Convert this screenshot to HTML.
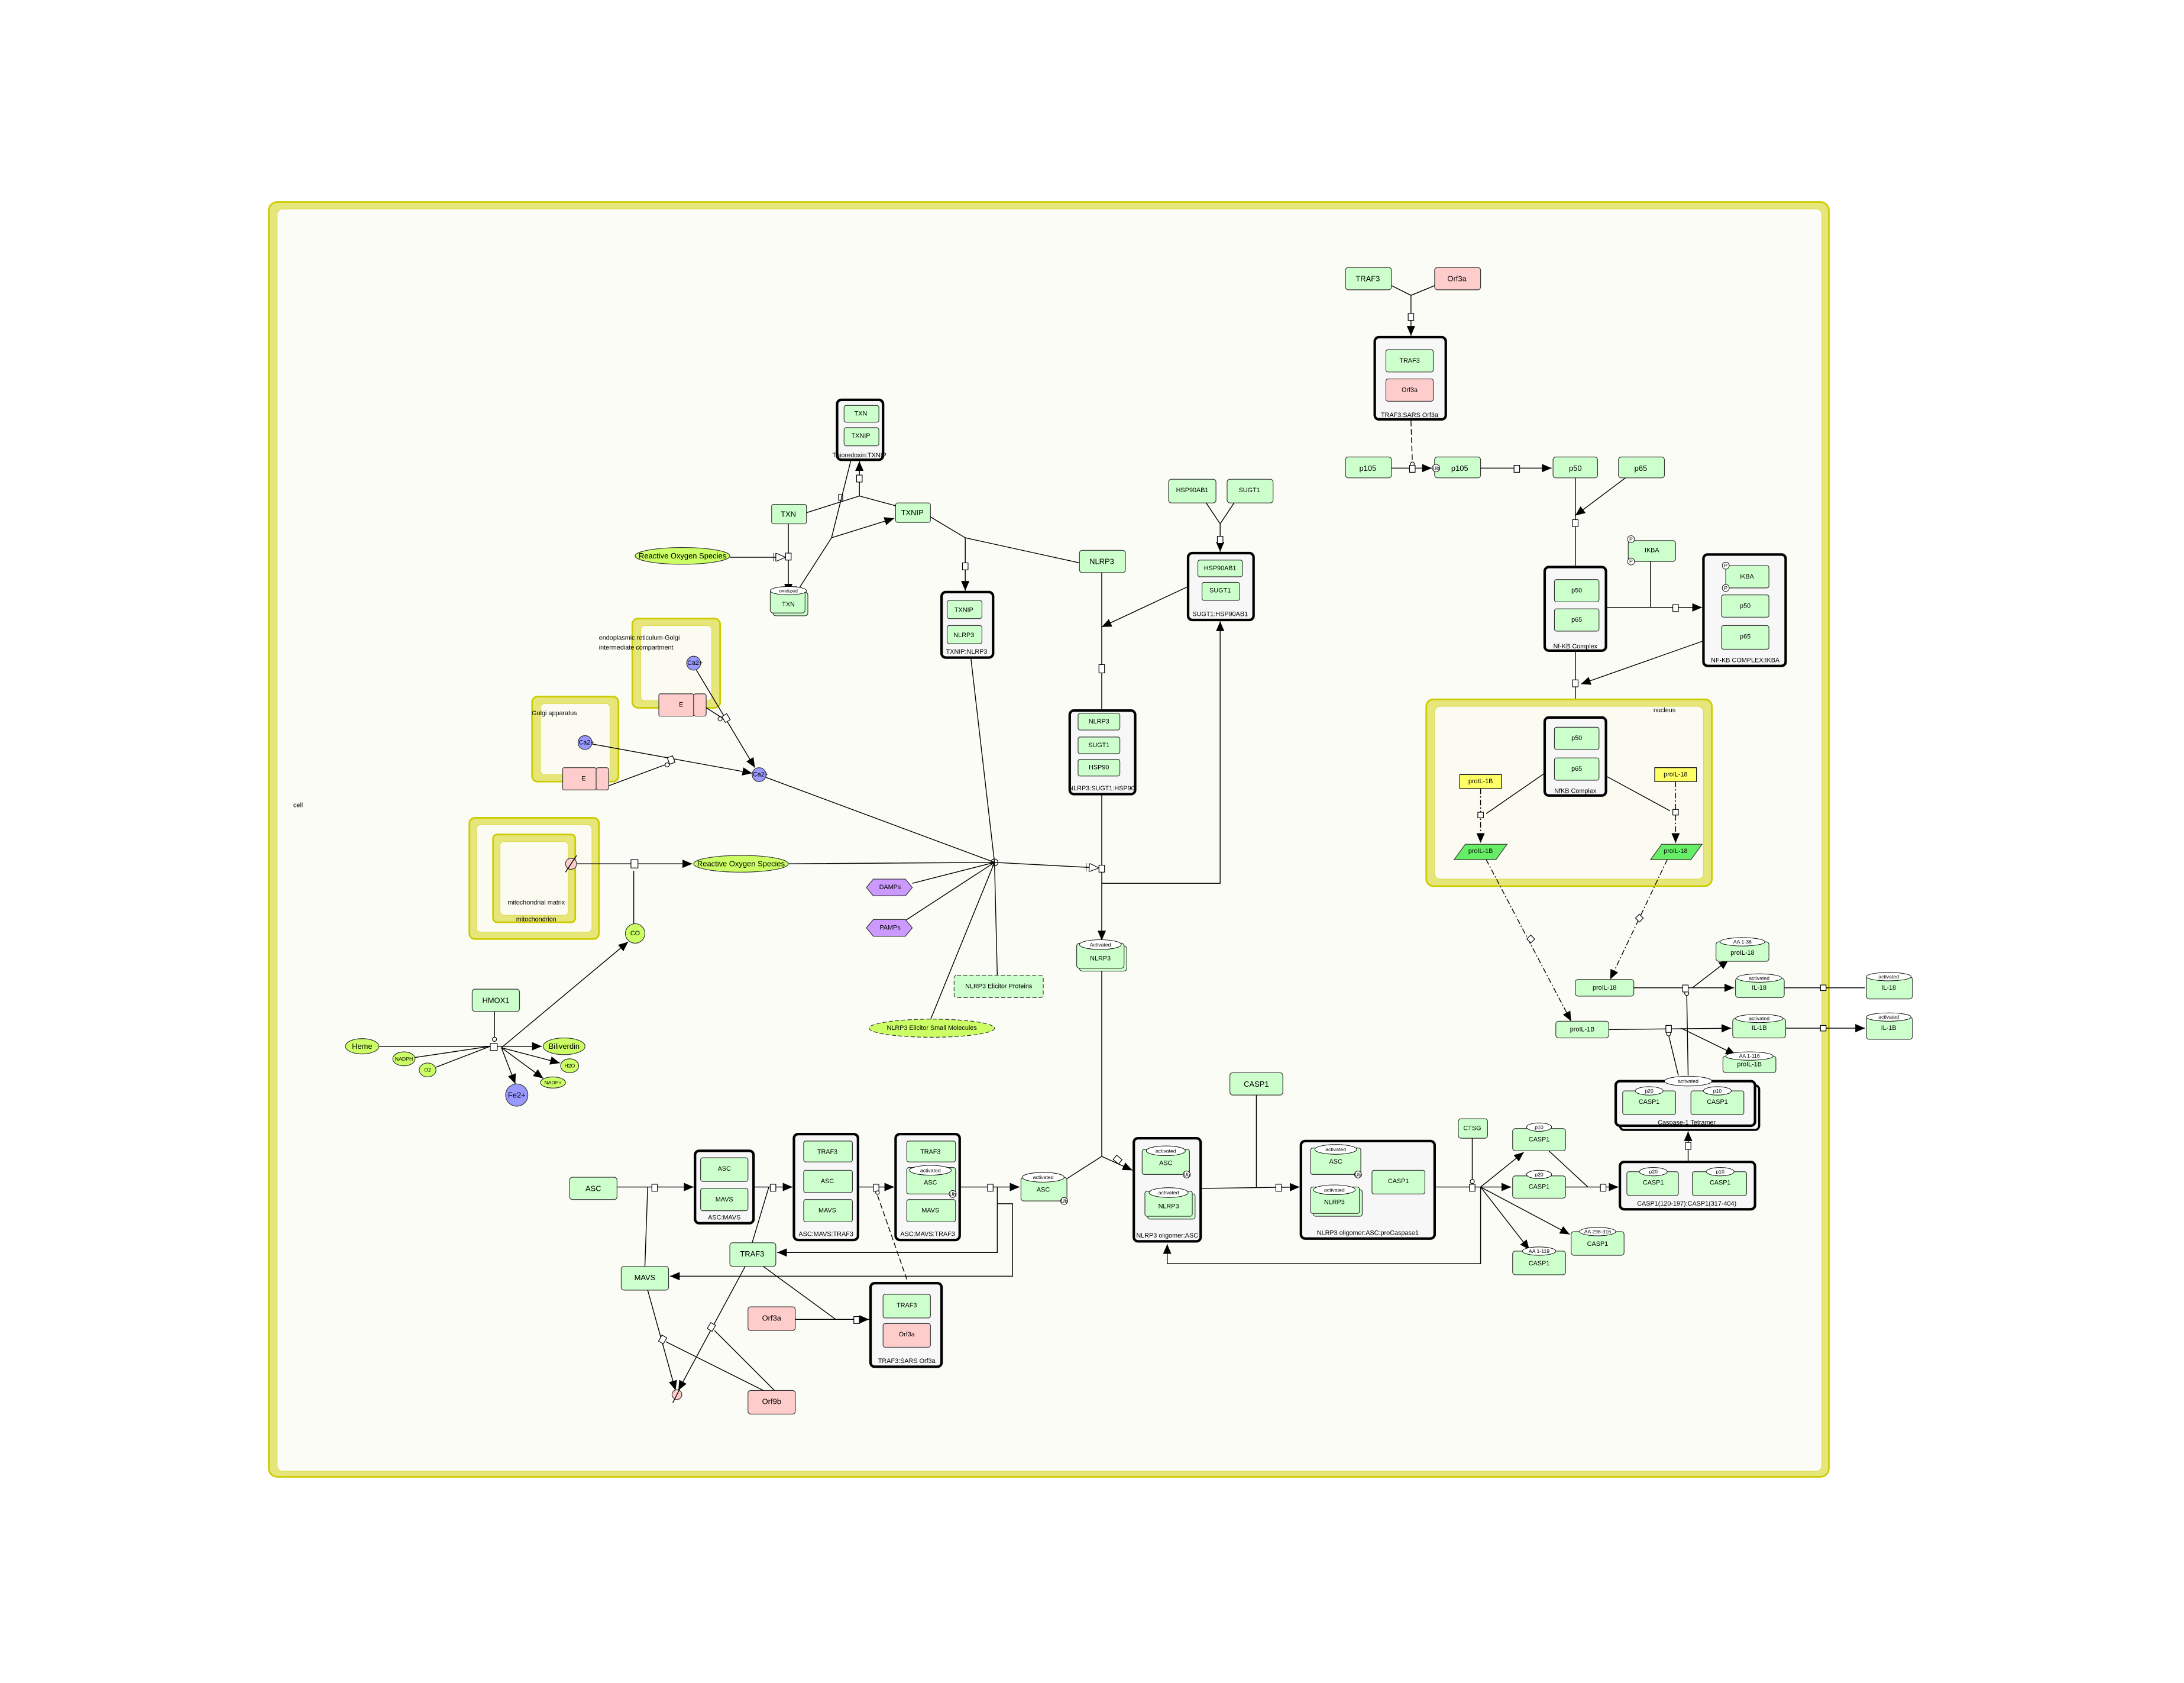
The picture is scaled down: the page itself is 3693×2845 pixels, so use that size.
<!DOCTYPE html>
<html><head><meta charset="utf-8"><style>
html,body{margin:0;padding:0;background:#fff}
svg{display:block}
text{font-family:"Liberation Sans","DejaVu Sans",sans-serif;font-size:5.5px;text-anchor:middle;dominant-baseline:central;fill:#000}
.s{font-size:4.6px}
.xs{font-size:3.7px}
.p{fill:#ccffcc;stroke:#333;stroke-width:0.5}
.k{fill:#ffcccc;stroke:#333;stroke-width:0.5}
.c{fill:#f7f7f8;stroke:#000;stroke-width:1.8}
.l{fill:none;stroke:#000;stroke-width:0.6}
.d{fill:none;stroke:#000;stroke-width:0.6;stroke-dasharray:4 2}
.dd{fill:none;stroke:#000;stroke-width:0.6;stroke-dasharray:4 1.5 1 1.5}
.q{fill:#fff;stroke:#000;stroke-width:0.5}
.ch{fill:#ccff66;stroke:#333;stroke-width:0.5}
.io{fill:#9999ff;stroke:#333;stroke-width:0.5}
.cy{fill:#e6e67a;stroke:#cccc00;stroke-width:1.2}
.ci{fill:#fbfbf2;stroke:#dddd55;stroke-width:0.5}
</style></head><body>
<svg width="3693" height="2845" viewBox="0 0 1568 1208" preserveAspectRatio="none" xmlns="http://www.w3.org/2000/svg">
<defs>
<marker id="a" markerWidth="7" markerHeight="6" refX="7" refY="3" orient="auto" markerUnits="userSpaceOnUse"><path d="M0,0L7,3L0,6z"/></marker>
<marker id="h" markerWidth="9" markerHeight="6" refX="9" refY="3" orient="auto" markerUnits="userSpaceOnUse"><path d="M0,0V6M2,0V6M2,0L9,3L2,6z" fill="#fff" stroke="#000" stroke-width="0.5"/></marker>
</defs>
<rect width="1568" height="1208" fill="#fff"/>
<rect x="193" y="145" width="1120" height="915" rx="6" class="cy" stroke-width="1.5"/>
<rect x="199" y="150" width="1109" height="906" rx="4" fill="#fcfcf6" stroke="#dddd55" stroke-width="0.5"/>
<text x="214" y="578" class="s">cell</text>

<rect x="337" y="587" width="93" height="87" rx="4" class="cy"/>
<rect x="342" y="592" width="83" height="77" rx="3" class="ci"/>
<rect x="354" y="599" width="59" height="63" rx="3" class="cy"/>
<rect x="359" y="604" width="49" height="53" rx="3" class="ci"/>
<text x="385" y="648" class="s">mitochondrial matrix</text>
<text x="385" y="660" class="s" fill="#997">mitochondrion</text>
<circle cx="410" cy="620" r="4" class="k"/><path d="M406,626L414,614" class="l"/>

<rect x="382" y="500" width="62" height="61" rx="4" class="cy"/>
<rect x="388" y="505" width="50" height="51" rx="3" class="ci"/>
<text x="398" y="512" class="s">Golgi apparatus</text>
<circle cx="420" cy="533" r="5" class="io"/><text x="421" y="533" class="s">Ca2+</text>
<rect x="404" y="551" width="24" height="16" rx="1" class="k"/><rect x="428" y="551" width="9" height="16" rx="1.5" class="k"/><text x="419" y="559" class="s">E</text>

<rect x="454" y="444" width="63" height="64" rx="4" class="cy"/>
<rect x="460" y="449" width="51" height="54" rx="3" class="ci"/>
<text x="430" y="458" class="s" style="text-anchor:start">endoplasmic reticulum-Golgi</text>
<text x="430" y="465" class="s" style="text-anchor:start">intermediate compartment</text>
<circle cx="498" cy="476" r="5" class="io"/><text x="499" y="476" class="s">Ca2+</text>
<rect x="473" y="498" width="25" height="16" rx="1" class="k"/><rect x="498" y="498" width="9" height="16" rx="1.5" class="k"/><text x="489" y="506" class="s">E</text>

<circle cx="545" cy="556" r="5" class="io"/><text x="546" y="556" class="s">Ca2+</text>
<path d="M425,534L540,555" class="l" marker-end="url(#a)"/>
<path d="M437,564L480,548" class="l"/><rect x="480" y="543" width="4" height="5" class="q" transform="rotate(-20 482 546)"/><circle cx="479" cy="549" r="1.5" class="q"/>
<path d="M500,481L542,551" class="l" marker-end="url(#a)"/>
<path d="M507,508L518,515" class="l"/><rect x="519" y="513" width="4" height="5" class="q" transform="rotate(-30 521 515)"/><circle cx="517" cy="516" r="1.5" class="q"/>

<path d="M414,620L497,620" class="l" marker-end="url(#a)"/><rect x="453" y="617" width="5" height="6" class="q"/>
<path d="M455,625L455,663" class="l"/>
<circle cx="456" cy="670" r="7" class="ch"/><text x="456" y="670" class="s">CO</text>
<ellipse cx="532" cy="620" rx="34" ry="6" class="ch"/><text x="532" y="620">Reactive Oxygen Species</text>

<ellipse cx="260" cy="751" rx="12" ry="5.5" class="ch"/><text x="260" y="751">Heme</text>
<ellipse cx="290" cy="760" rx="8" ry="5" class="ch"/><text x="290" y="760" class="xs">NADPH</text>
<ellipse cx="307" cy="768" rx="6" ry="5" class="ch"/><text x="307" y="768" class="xs">O2</text>
<rect x="339" y="710" width="34" height="16" rx="2" class="p"/><text x="356" y="718">HMOX1</text>
<path d="M272,751L352,751M298,759L352,751M313,766L352,751M355,726L355,747" class="l"/>
<circle cx="355" cy="746" r="1.5" class="q"/>
<rect x="352" y="749" width="5" height="5" class="q"/>
<path d="M357,751L389,751" class="l" marker-end="url(#a)"/>
<path d="M360,752L402,763" class="l" marker-end="url(#a)"/>
<path d="M360,752L390,774" class="l" marker-end="url(#a)"/>
<path d="M360,752L370,778" class="l" marker-end="url(#a)"/>
<path d="M360,752L451,676" class="l" marker-end="url(#a)"/>
<ellipse cx="405" cy="751" rx="15" ry="6" class="ch"/><text x="405" y="751">Biliverdin</text>
<ellipse cx="409" cy="765" rx="6.5" ry="5" class="ch"/><text x="409" y="765" class="xs">H2O</text>
<ellipse cx="397" cy="777" rx="9" ry="4" class="ch"/><text x="397" y="777" class="xs">NADP+</text>
<circle cx="371" cy="786" r="8" class="io"/><text x="371" y="786">Fe2+</text>

<rect x="601" y="287" width="33" height="43" rx="3" class="c"/>
<rect x="606" y="291" width="25" height="12" rx="1.5" class="p"/><text x="618" y="297" class="s">TXN</text>
<rect x="606" y="307" width="25" height="13" rx="1.5" class="p"/><text x="618" y="313" class="s">TXNIP</text>
<text x="617" y="327" class="s">Thioredoxin:TXNIP</text>
<rect x="554" y="362" width="25" height="14" rx="1.5" class="p"/><text x="566" y="369">TXN</text>
<rect x="643" y="361" width="25" height="14" rx="1.5" class="p"/><text x="655" y="368">TXNIP</text>
<path d="M579,368L617,356L643,363M617,356L617,331" class="l" marker-end="url(#a)"/>
<rect x="615" y="341" width="4" height="5" class="q"/>
<rect x="602" y="355" width="3" height="4" class="q"/>
<path d="M611,330L597,386L570,428" class="l" marker-end="url(#a)"/>
<path d="M597,386L642,372" class="l" marker-end="url(#a)"/>
<path d="M566,376L566,426" class="l" marker-end="url(#a)"/>
<rect x="564" y="397" width="4" height="5" class="q"/>
<ellipse cx="490" cy="399" rx="34" ry="6" class="ch"/><text x="490" y="399">Reactive Oxygen Species</text>
<path d="M524,400L564,400" class="l" marker-end="url(#h)"/>
<rect x="555" y="425" width="25" height="17" rx="2" class="p"/>
<rect x="553" y="423" width="25" height="17" rx="2" class="p"/>
<ellipse cx="566" cy="424" rx="13" ry="3" fill="#fff" stroke="#000" stroke-width="0.4"/><text x="566" y="424" class="xs">oxidized</text>
<text x="566" y="434" class="s">TXN</text>

<path d="M668,371L693,386L775,404M693,386L693,424" class="l" marker-end="url(#a)"/>
<rect x="691" y="404" width="4" height="5" class="q"/>
<rect x="775" y="395" width="33" height="16" rx="2" class="p"/><text x="791" y="403">NLRP3</text>
<rect x="676" y="425" width="37" height="47" rx="3" class="c"/>
<rect x="680" y="431" width="25" height="13" rx="1.5" class="p"/><text x="692" y="438" class="s">TXNIP</text>
<rect x="680" y="449" width="25" height="13" rx="1.5" class="p"/><text x="692" y="456" class="s">NLRP3</text>
<text x="694" y="468" class="s">TXNIP:NLRP3</text>

<rect x="839" y="344" width="34" height="17" rx="2" class="p"/><text x="856" y="352" class="s">HSP90AB1</text>
<rect x="881" y="344" width="33" height="17" rx="2" class="p"/><text x="897" y="352" class="s">SUGT1</text>
<path d="M866,361L876,376L886,361M876,376L876,396" class="l" marker-end="url(#a)"/>
<rect x="874" y="385" width="4" height="5" class="q"/>
<rect x="853" y="397" width="47" height="48" rx="3" class="c"/>
<rect x="860" y="402" width="32" height="12" rx="1.5" class="p"/><text x="876" y="408" class="s">HSP90AB1</text>
<rect x="863" y="418" width="27" height="13" rx="1.5" class="p"/><text x="876" y="424" class="s">SUGT1</text>
<text x="876" y="441" class="s">SUGT1:HSP90AB1</text>

<path d="M791,411L791,509M853,421L791,450" class="l" marker-end="url(#a)"/>
<rect x="789" y="477" width="4" height="6" class="q"/>
<rect x="768" y="510" width="47" height="60" rx="3" class="c"/>
<rect x="774" y="512" width="30" height="12" rx="1.5" class="p"/><text x="789" y="518" class="s">NLRP3</text>
<rect x="774" y="529" width="30" height="12" rx="1.5" class="p"/><text x="789" y="535" class="s">SUGT1</text>
<rect x="774" y="545" width="30" height="12" rx="1.5" class="p"/><text x="789" y="551" class="s">HSP90</text>
<text x="791" y="566" class="s">NLRP3:SUGT1:HSP90</text>
<path d="M791,570L791,675" class="l" marker-end="url(#a)"/>
<rect x="789" y="621" width="4" height="5" class="q"/>
<path d="M791,634L876,634L876,446" class="l" marker-end="url(#a)"/>

<circle cx="714" cy="619" r="2.5" class="q"/>
<path d="M550,558L714,619M697,472L714,619M566,620L714,619M655,634L714,619M648,662L714,619M668,732L714,619M716,700L714,619" class="l"/>
<path d="M714,619L789,623" class="l" marker-end="url(#h)"/>
<path d="M622,637L627,631L650,631L655,637L650,643L627,643z" fill="#cc99ff" stroke="#333" stroke-width="0.5"/><text x="639" y="637" class="s">DAMPs</text>
<path d="M622,666L627,660L650,660L655,666L650,672L627,672z" fill="#cc99ff" stroke="#333" stroke-width="0.5"/><text x="639" y="666" class="s">PAMPs</text>
<rect x="685" y="700" width="64" height="16" rx="2" class="p" stroke-dasharray="3 1.5"/><text x="717" y="708" class="s">NLRP3 Elicitor Proteins</text>
<ellipse cx="669" cy="738" rx="45" ry="6.5" class="ch" stroke-dasharray="3 1.5"/><text x="669" y="738" class="s">NLRP3 Elicitor Small Molecules</text>

<rect x="775" y="679" width="34" height="18" rx="2" class="p"/>
<rect x="773" y="677" width="34" height="18" rx="2" class="p"/>
<ellipse cx="790" cy="678" rx="15" ry="3.5" fill="#fff" stroke="#000" stroke-width="0.4"/><text x="790" y="678" class="xs">Activated</text>
<text x="790" y="688" class="s">NLRP3</text>
<path d="M791,697L791,830L813,840" class="l" marker-end="url(#a)"/>
<path d="M766,846L791,830" class="l"/>
<rect x="800" y="830" width="4" height="5" class="q" transform="rotate(-50 802 832)"/>

<rect x="409" y="845" width="34" height="16" rx="2" class="p"/><text x="426" y="853">ASC</text>
<path d="M443,852L498,852" class="l" marker-end="url(#a)"/><rect x="468" y="850" width="4" height="5" class="q"/>
<path d="M465,852L463,909" class="l"/>
<rect x="499" y="826" width="42" height="52" rx="3" class="c"/>
<rect x="503" y="831" width="34" height="17" rx="1.5" class="p"/><text x="520" y="839" class="s">ASC</text>
<rect x="503" y="853" width="34" height="16" rx="1.5" class="p"/><text x="520" y="861" class="s">MAVS</text>
<text x="520" y="874" class="s">ASC:MAVS</text>
<path d="M541,852L569,852" class="l" marker-end="url(#a)"/><rect x="553" y="850" width="4" height="5" class="q"/>
<path d="M552,852L540,892" class="l"/>
<rect x="570" y="814" width="46" height="76" rx="3" class="c"/>
<rect x="577" y="819" width="35" height="15" rx="1.5" class="p"/><text x="594" y="827" class="s">TRAF3</text>
<rect x="577" y="840" width="35" height="16" rx="1.5" class="p"/><text x="594" y="848" class="s">ASC</text>
<rect x="577" y="861" width="35" height="16" rx="1.5" class="p"/><text x="594" y="869" class="s">MAVS</text>
<text x="593" y="886" class="s">ASC:MAVS:TRAF3</text>
<path d="M616,852L642,852" class="l" marker-end="url(#a)"/><rect x="627" y="850" width="4" height="5" class="q"/>
<circle cx="630" cy="856" r="1.3" class="q"/>
<path d="M630,858L652,921" class="d"/>
<rect x="643" y="814" width="46" height="76" rx="3" class="c"/>
<rect x="651" y="819" width="35" height="15" rx="1.5" class="p"/><text x="668" y="827" class="s">TRAF3</text>
<rect x="651" y="838" width="35" height="19" rx="1.5" class="p"/>
<ellipse cx="668" cy="840" rx="15" ry="3.5" fill="#fff" stroke="#000" stroke-width="0.4"/><text x="668" y="840" class="xs">activated</text>
<text x="668" y="849" class="s">ASC</text><circle cx="684" cy="857" r="2.5" fill="#fff" stroke="#000" stroke-width="0.4"/><text x="684" y="857" class="xs">Ub</text>
<rect x="651" y="861" width="35" height="16" rx="1.5" class="p"/><text x="668" y="869" class="s">MAVS</text>
<text x="666" y="886" class="s">ASC:MAVS:TRAF3</text>
<path d="M689,852L732,852" class="l" marker-end="url(#a)"/><rect x="709" y="850" width="4" height="5" class="q"/>
<path d="M716,852L716,899L558,899" class="l" marker-end="url(#a)"/>
<path d="M716,864L727,864L727,916L481,916" class="l" marker-end="url(#a)"/>
<rect x="733" y="845" width="33" height="17" rx="2" class="p"/>
<ellipse cx="749" cy="845" rx="15" ry="3.5" fill="#fff" stroke="#000" stroke-width="0.4"/><text x="749" y="845" class="xs">activated</text>
<text x="749" y="854" class="s">ASC</text><circle cx="764" cy="862" r="2.5" fill="#fff" stroke="#000" stroke-width="0.4"/><text x="764" y="862" class="xs">Ub</text>

<rect x="524" y="892" width="33" height="17" rx="2" class="p"/><text x="540" y="900">TRAF3</text>
<rect x="446" y="909" width="34" height="17" rx="2" class="p"/><text x="463" y="917">MAVS</text>
<rect x="537" y="938" width="34" height="17" rx="2" class="k"/><text x="554" y="946">Orf3a</text>
<path d="M571,947L600,947M548,909L600,947L624,947" class="l" marker-end="url(#a)"/><rect x="613" y="945" width="4" height="5" class="q"/>
<rect x="625" y="921" width="51" height="60" rx="3" class="c"/>
<rect x="634" y="929" width="34" height="17" rx="1.5" class="p"/><text x="651" y="937" class="s">TRAF3</text>
<rect x="634" y="950" width="34" height="17" rx="1.5" class="k"/><text x="651" y="958" class="s">Orf3a</text>
<text x="651" y="977" class="s">TRAF3:SARS Orf3a</text>
<rect x="537" y="998" width="34" height="17" rx="2" class="k"/><text x="554" y="1006">Orf9b</text>
<path d="M465,926L485,998" class="l" marker-end="url(#a)"/>
<path d="M535,909L487,998" class="l" marker-end="url(#a)"/>
<path d="M548,998L478,963M556,998L513,955" class="l"/>
<rect x="474" y="959" width="4" height="5" class="q" transform="rotate(30 476 961)"/>
<rect x="509" y="950" width="4" height="5" class="q" transform="rotate(30 511 952)"/>
<circle cx="486" cy="1001" r="3.5" class="k"/><path d="M483,1007L489,995" class="l"/>

<rect x="814" y="817" width="48" height="74" rx="3" class="c"/>
<rect x="820" y="825" width="34" height="18" rx="1.5" class="p"/>
<ellipse cx="837" cy="826" rx="14" ry="3.5" fill="#fff" stroke="#000" stroke-width="0.4"/><text x="837" y="826" class="xs">activated</text>
<text x="837" y="835" class="s">ASC</text><circle cx="852" cy="843" r="2.5" fill="#fff" stroke="#000" stroke-width="0.4"/><text x="852" y="843" class="xs">Ub</text>
<rect x="824" y="857" width="34" height="18" rx="1.5" class="p"/>
<rect x="822" y="855" width="34" height="18" rx="1.5" class="p"/>
<ellipse cx="839" cy="856" rx="14" ry="3.5" fill="#fff" stroke="#000" stroke-width="0.4"/><text x="839" y="856" class="xs">activated</text>
<text x="839" y="866" class="s">NLRP3</text>
<text x="838" y="887" class="s">NLRP3 oligomer:ASC</text>
<rect x="883" y="770" width="38" height="16" rx="2" class="p"/><text x="902" y="778">CASP1</text>
<path d="M902,786L902,852M862,853L933,852" class="l" marker-end="url(#a)"/><rect x="916" y="850" width="4" height="5" class="q"/>
<rect x="934" y="819" width="96" height="70" rx="3" class="c"/>
<rect x="941" y="824" width="36" height="19" rx="1.5" class="p"/>
<ellipse cx="959" cy="825" rx="15" ry="3.5" fill="#fff" stroke="#000" stroke-width="0.4"/><text x="959" y="825" class="xs">activated</text>
<text x="959" y="834" class="s">ASC</text><circle cx="975" cy="843" r="2.5" fill="#fff" stroke="#000" stroke-width="0.4"/><text x="975" y="843" class="xs">Ub</text>
<rect x="943" y="854" width="35" height="19" rx="1.5" class="p"/>
<rect x="941" y="852" width="35" height="19" rx="1.5" class="p"/>
<ellipse cx="958" cy="854" rx="15" ry="3.5" fill="#fff" stroke="#000" stroke-width="0.4"/><text x="958" y="854" class="xs">activated</text>
<text x="958" y="863" class="s">NLRP3</text>
<rect x="985" y="840" width="38" height="17" rx="1.5" class="p"/><text x="1004" y="848" class="s">CASP1</text>
<text x="982" y="885" class="s">NLRP3 oligomer:ASC:proCaspase1</text>

<rect x="1047" y="803" width="21" height="14" rx="2" class="p"/><text x="1057" y="810" class="s">CTSG</text>
<path d="M1057,817L1057,848" class="l"/><circle cx="1057" cy="848" r="1.5" class="q"/>
<path d="M1030,852L1063,852" class="l"/><rect x="1055" y="850" width="4" height="5" class="q"/>
<path d="M1063,852L1094,827" class="l" marker-end="url(#a)"/>
<path d="M1063,852L1085,852" class="l" marker-end="url(#a)"/>
<path d="M1063,852L1127,886" class="l" marker-end="url(#a)"/>
<path d="M1063,852L1098,897" class="l" marker-end="url(#a)"/>
<path d="M1063,852L1063,907L838,907L838,893" class="l" marker-end="url(#a)"/>
<rect x="1086" y="810" width="38" height="16" rx="2" class="p"/><ellipse cx="1105" cy="809" rx="9" ry="3" fill="#fff" stroke="#000" stroke-width="0.4"/><text x="1105" y="809" class="xs">p10</text><text x="1105" y="818" class="s">CASP1</text>
<rect x="1086" y="844" width="38" height="16" rx="2" class="p"/><ellipse cx="1105" cy="843" rx="9" ry="3" fill="#fff" stroke="#000" stroke-width="0.4"/><text x="1105" y="843" class="xs">p20</text><text x="1105" y="852" class="s">CASP1</text>
<rect x="1128" y="884" width="38" height="17" rx="2" class="p"/><ellipse cx="1147" cy="884" rx="13" ry="3" fill="#fff" stroke="#000" stroke-width="0.4"/><text x="1147" y="884" class="xs">AA 298-316</text><text x="1147" y="893" class="s">CASP1</text>
<rect x="1086" y="898" width="38" height="17" rx="2" class="p"/><ellipse cx="1105" cy="898" rx="12" ry="3" fill="#fff" stroke="#000" stroke-width="0.4"/><text x="1105" y="898" class="xs">AA 1-119</text><text x="1105" y="907" class="s">CASP1</text>
<path d="M1112,826L1140,852M1124,852L1162,852" class="l" marker-end="url(#a)"/><rect x="1149" y="850" width="4" height="5" class="q"/>
<rect x="1163" y="834" width="97" height="34" rx="3" class="c"/>
<rect x="1168" y="841" width="37" height="17" rx="1.5" class="p"/><ellipse cx="1187" cy="841" rx="10" ry="3" fill="#fff" stroke="#000" stroke-width="0.4"/><text x="1187" y="841" class="xs">p20</text><text x="1187" y="849" class="s">CASP1</text>
<rect x="1215" y="841" width="39" height="17" rx="1.5" class="p"/><ellipse cx="1235" cy="841" rx="10" ry="3" fill="#fff" stroke="#000" stroke-width="0.4"/><text x="1235" y="841" class="xs">p10</text><text x="1235" y="849" class="s">CASP1</text>
<text x="1211" y="864" class="s">CASP1(120-197):CASP1(317-404)</text>
<path d="M1212,834L1212,812" class="l" marker-end="url(#a)"/><rect x="1210" y="820" width="4" height="5" class="q"/>
<rect x="1163" y="779" width="100" height="32" rx="3" fill="#f7f7f8" stroke="#000" stroke-width="1.5"/>
<rect x="1160" y="776" width="100" height="32" rx="3" class="c"/>
<rect x="1165" y="783" width="38" height="17" rx="1.5" class="p"/><ellipse cx="1184" cy="783" rx="10" ry="3" fill="#fff" stroke="#000" stroke-width="0.4"/><text x="1184" y="783" class="xs">p20</text><text x="1184" y="791" class="s">CASP1</text>
<rect x="1214" y="783" width="38" height="17" rx="1.5" class="p"/><ellipse cx="1233" cy="783" rx="10" ry="3" fill="#fff" stroke="#000" stroke-width="0.4"/><text x="1233" y="783" class="xs">p10</text><text x="1233" y="791" class="s">CASP1</text>
<ellipse cx="1212" cy="776" rx="17" ry="3.5" fill="#fff" stroke="#000" stroke-width="0.4"/><text x="1212" y="776" class="xs">activated</text>
<text x="1211" y="806" class="s">Caspase-1 Tetramer</text>
<path d="M1212,772L1211,714M1205,772L1198,743" class="l"/>
<circle cx="1211" cy="713" r="1.5" class="q"/><circle cx="1198" cy="742" r="1.5" class="q"/>

<rect x="966" y="192" width="33" height="16" rx="2" class="p"/><text x="982" y="200">TRAF3</text>
<rect x="1030" y="192" width="33" height="16" rx="2" class="k"/><text x="1046" y="200">Orf3a</text>
<path d="M999,205L1013,212L1030,205M1013,212L1013,241" class="l" marker-end="url(#a)"/>
<rect x="1011" y="225" width="4" height="5" class="q"/>
<rect x="987" y="242" width="51" height="59" rx="3" class="c"/>
<rect x="995" y="251" width="34" height="16" rx="1.5" class="p"/><text x="1012" y="259" class="s">TRAF3</text>
<rect x="995" y="272" width="34" height="16" rx="1.5" class="k"/><text x="1012" y="280" class="s">Orf3a</text>
<text x="1012" y="298" class="s">TRAF3:SARS Orf3a</text>
<path d="M1013,302L1014,332" class="d"/><circle cx="1014" cy="333" r="1.4" class="q"/>
<rect x="966" y="328" width="33" height="15" rx="2" class="p"/><text x="982" y="336">p105</text>
<rect x="1030" y="328" width="33" height="15" rx="2" class="p"/><text x="1048" y="336">p105</text>
<circle cx="1031" cy="336" r="2.7" fill="#fff" stroke="#000" stroke-width="0.4"/><text x="1031" y="336" class="xs">Ub</text>
<path d="M999,336L1028,336" class="l" marker-end="url(#a)"/><rect x="1012" y="334" width="4" height="5" class="q"/>
<path d="M1063,336L1114,336" class="l" marker-end="url(#a)"/><rect x="1087" y="334" width="4" height="5" class="q"/>
<rect x="1115" y="328" width="32" height="15" rx="2" class="p"/><text x="1131" y="336">p50</text>
<rect x="1162" y="328" width="33" height="15" rx="2" class="p"/><text x="1178" y="336">p65</text>
<path d="M1131,343L1131,406M1167,343L1131,370" class="l" marker-end="url(#a)"/>
<rect x="1129" y="373" width="4" height="5" class="q"/>
<rect x="1109" y="407" width="44" height="60" rx="3" class="c"/>
<rect x="1116" y="416" width="32" height="16" rx="1.5" class="p"/><text x="1132" y="424" class="s">p50</text>
<rect x="1116" y="437" width="32" height="16" rx="1.5" class="p"/><text x="1132" y="445" class="s">p65</text>
<text x="1131" y="464" class="s">Nf-KB Complex</text>
<rect x="1169" y="388" width="34" height="15" rx="2" class="p"/><text x="1186" y="395" class="s">IKBA</text>
<circle cx="1171" cy="387" r="2.5" fill="#fff" stroke="#000" stroke-width="0.4"/><text x="1171" y="387" class="xs">P</text>
<circle cx="1171" cy="403" r="2.5" fill="#fff" stroke="#000" stroke-width="0.4"/><text x="1171" y="403" class="xs">P</text>
<path d="M1185,403L1185,436M1153,436L1222,436" class="l" marker-end="url(#a)"/><rect x="1201" y="434" width="4" height="5" class="q"/>
<rect x="1223" y="398" width="59" height="80" rx="3" class="c"/>
<rect x="1239" y="406" width="31" height="16" rx="1.5" class="p"/><text x="1254" y="414" class="s">IKBA</text>
<circle cx="1239" cy="406" r="2.5" fill="#fff" stroke="#000" stroke-width="0.4"/><text x="1239" y="406" class="xs">P</text>
<circle cx="1239" cy="422" r="2.5" fill="#fff" stroke="#000" stroke-width="0.4"/><text x="1239" y="422" class="xs">P</text>
<rect x="1236" y="427" width="34" height="16" rx="1.5" class="p"/><text x="1253" y="435" class="s">p50</text>
<rect x="1236" y="449" width="34" height="17" rx="1.5" class="p"/><text x="1253" y="457" class="s">p65</text>
<text x="1253" y="474" class="s">NF-KB COMPLEX:IKBA</text>
<path d="M1131,467L1131,514M1223,460L1135,491" class="l" marker-end="url(#a)"/>
<rect x="1129" y="488" width="4" height="5" class="q"/>

<rect x="1024" y="502" width="205" height="134" rx="5" class="cy"/>
<rect x="1030" y="507" width="193" height="124" rx="4" class="ci"/>
<text x="1195" y="510" class="s">nucleus</text>
<rect x="1109" y="515" width="44" height="56" rx="3" class="c"/>
<rect x="1116" y="522" width="32" height="16" rx="1.5" class="p"/><text x="1132" y="530" class="s">p50</text>
<rect x="1116" y="544" width="32" height="16" rx="1.5" class="p"/><text x="1132" y="552" class="s">p65</text>
<text x="1131" y="568" class="s">NfKB Complex</text>
<rect x="1048" y="556" width="30" height="10" fill="#ffff66" stroke="#000" stroke-width="0.5"/><text x="1063" y="561" class="s">proIL-1B</text>
<rect x="1188" y="551" width="30" height="10" fill="#ffff66" stroke="#000" stroke-width="0.5"/><text x="1203" y="556" class="s">proIL-18</text>
<path d="M1063,566L1063,605" class="dd" marker-end="url(#a)"/><rect x="1061" y="583" width="4" height="4" class="q"/>
<path d="M1203,561L1203,605" class="dd" marker-end="url(#a)"/><rect x="1201" y="581" width="4" height="4" class="q"/>
<path d="M1109,555L1067,584M1153,557L1199,582" class="l"/>
<path d="M1052,606L1082,606L1074,617L1044,617z" fill="#66ee66" stroke="#333" stroke-width="0.5"/><text x="1063" y="611" class="s">proIL-1B</text>
<path d="M1193,606L1222,606L1214,617L1185,617z" fill="#66ee66" stroke="#333" stroke-width="0.5"/><text x="1203" y="611" class="s">proIL-18</text>
<path d="M1067,617L1128,733" class="dd" marker-end="url(#a)"/><rect x="1097" y="672" width="4" height="4" class="q" transform="rotate(45 1099 674)"/>
<path d="M1197,617L1156,703" class="dd" marker-end="url(#a)"/><rect x="1175" y="657" width="4" height="4" class="q" transform="rotate(45 1177 659)"/>

<rect x="1131" y="703" width="42" height="12" rx="2" class="p"/><text x="1152" y="709" class="s">proIL-18</text>
<rect x="1117" y="733" width="38" height="12" rx="2" class="p"/><text x="1136" y="739" class="s">proIL-1B</text>
<path d="M1173,709L1245,709" class="l" marker-end="url(#a)"/><rect x="1208" y="707" width="4" height="5" class="q"/>
<path d="M1215,709L1241,689" class="l" marker-end="url(#a)"/>
<path d="M1155,739L1243,738" class="l" marker-end="url(#a)"/><rect x="1196" y="736" width="4" height="5" class="q"/>
<path d="M1207,738L1246,757" class="l" marker-end="url(#a)"/>
<path d="M1281,709L1339,709M1282,738L1339,738" class="l" marker-end="url(#a)"/>
<rect x="1307" y="707" width="4" height="4" class="q"/><rect x="1307" y="736" width="4" height="4" class="q"/>
<rect x="1232" y="676" width="38" height="14" rx="2" class="p"/><ellipse cx="1251" cy="676" rx="16" ry="3" fill="#fff" stroke="#000" stroke-width="0.4"/><text x="1251" y="676" class="xs">AA 1-36</text><text x="1251" y="684" class="s">proIL-18</text>
<rect x="1246" y="702" width="35" height="14" rx="2" class="p"/><ellipse cx="1263" cy="702" rx="16" ry="3" fill="#fff" stroke="#000" stroke-width="0.4"/><text x="1263" y="702" class="xs">activated</text><text x="1263" y="709" class="s">IL-18</text>
<rect x="1244" y="731" width="38" height="14" rx="2" class="p"/><ellipse cx="1263" cy="731" rx="17" ry="3" fill="#fff" stroke="#000" stroke-width="0.4"/><text x="1263" y="731" class="xs">activated</text><text x="1263" y="738" class="s">IL-1B</text>
<rect x="1237" y="758" width="38" height="12" rx="2" class="p"/><ellipse cx="1256" cy="758" rx="17" ry="3" fill="#fff" stroke="#000" stroke-width="0.4"/><text x="1256" y="758" class="xs">AA 1-116</text><text x="1256" y="764" class="s">proIL-1B</text>
<rect x="1340" y="701" width="33" height="16" rx="2" class="p"/><ellipse cx="1356" cy="701" rx="16" ry="3" fill="#fff" stroke="#000" stroke-width="0.4"/><text x="1356" y="701" class="xs">activated</text><text x="1356" y="709" class="s">IL-18</text>
<rect x="1340" y="730" width="33" height="16" rx="2" class="p"/><ellipse cx="1356" cy="730" rx="16" ry="3" fill="#fff" stroke="#000" stroke-width="0.4"/><text x="1356" y="730" class="xs">activated</text><text x="1356" y="738" class="s">IL-1B</text>
</svg>
</body></html>
